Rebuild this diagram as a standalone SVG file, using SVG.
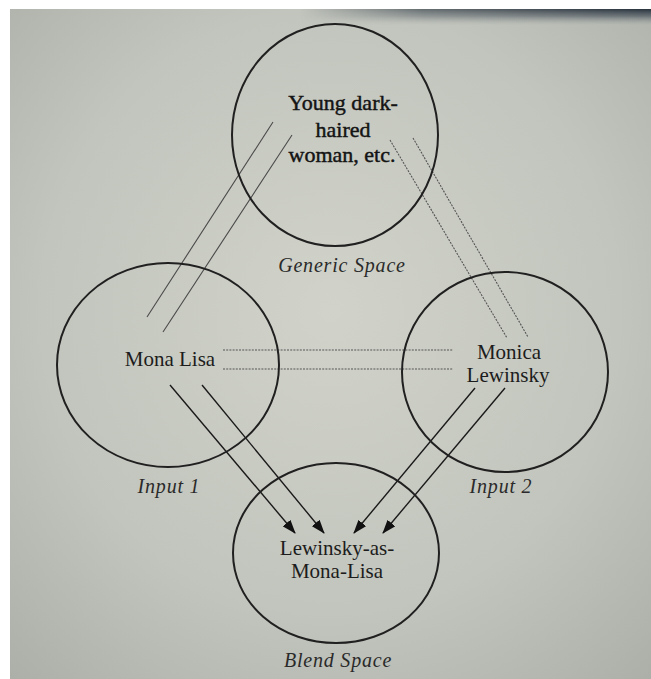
<svg xmlns="http://www.w3.org/2000/svg" width="651" height="679" viewBox="0 0 651 679">
  <defs>
    <radialGradient id="paper" cx="0.5" cy="0.45" r="0.75">
      <stop offset="0" stop-color="#d1d3ca"/>
      <stop offset="0.6" stop-color="#c2c5bd"/>
      <stop offset="1" stop-color="#abafa8"/>
    </radialGradient>
    <linearGradient id="shadeV" x1="0" y1="0" x2="0" y2="1">
      <stop offset="0" stop-color="#1f2a36" stop-opacity="0.95"/>
      <stop offset="0.45" stop-color="#3a4450" stop-opacity="0.6"/>
      <stop offset="1" stop-color="#8a9096" stop-opacity="0"/>
    </linearGradient>
    <linearGradient id="shadeH" x1="0" y1="0" x2="1" y2="0">
      <stop offset="0" stop-color="#fff" stop-opacity="0"/>
      <stop offset="0.35" stop-color="#fff" stop-opacity="0.6"/>
      <stop offset="1" stop-color="#fff" stop-opacity="1"/>
    </linearGradient>
    <mask id="shadeMask">
      <rect x="300" y="9" width="351" height="16" fill="url(#shadeH)"/>
    </mask>
    <marker id="head" markerWidth="14" markerHeight="10" refX="13" refY="5" orient="auto" markerUnits="userSpaceOnUse">
      <path d="M0,0 L14,5 L0,10 Z" fill="#111"/>
    </marker>
    <style>
      .space { fill: none; stroke: #202020; stroke-width: 2; }
      .label { font-family: "Liberation Serif", "Times New Roman", serif; fill: #1c1c1c; text-anchor: middle; }
      .inner { font-size: 21px; }
      .heavy { font-size: 22px; fill: #141414; stroke: #141414; stroke-width: 0.45px; }
      .caption { font-size: 20px; font-style: italic; letter-spacing: 0.8px; fill: #2a2a2a; }
      .link { stroke: #4a4a4a; stroke-width: 1.1; fill: none; }
      .dotted { stroke: #555; stroke-width: 1.1; stroke-dasharray: 2 1.2; fill: none; }
      .arrow { stroke: #1a1a1a; stroke-width: 1.4; fill: none; marker-end: url(#head); }
    </style>
  </defs>

  <!-- page margins and photographed sheet -->
  <rect x="0" y="0" width="651" height="679" fill="#ffffff"/>
  <rect x="10" y="9" width="641" height="670" fill="url(#paper)"/>
  <rect x="300" y="9" width="351" height="16" fill="url(#shadeV)" mask="url(#shadeMask)"/>

  <!-- connectors -->
  <g id="connectors">
    <line class="link" x1="273" y1="122" x2="147" y2="317"/>
    <line class="link" x1="292" y1="135" x2="163" y2="332"/>
    <line class="dotted" x1="390" y1="140" x2="507" y2="338"/>
    <line class="dotted" x1="413" y1="138" x2="528" y2="337"/>
    <line class="dotted" x1="223" y1="350" x2="453" y2="350"/>
    <line class="dotted" x1="223" y1="369" x2="453" y2="369"/>
    <line class="arrow" x1="170" y1="385" x2="295" y2="533"/>
    <line class="arrow" x1="202" y1="385" x2="324" y2="533"/>
    <line class="arrow" x1="475" y1="388" x2="354" y2="533"/>
    <line class="arrow" x1="505" y1="388" x2="383" y2="533"/>
  </g>

  <g id="generic-space">
    <ellipse class="space" cx="335" cy="135" rx="103" ry="111"/>
    <text class="label heavy" x="343" y="110">Young dark-</text>
    <text class="label heavy" x="343" y="137">haired</text>
    <text class="label heavy" x="342" y="162">woman, etc.</text>
    <text class="label caption" x="342" y="272">Generic Space</text>
  </g>

  <g id="input-1">
    <ellipse class="space" cx="168" cy="365" rx="111" ry="102"/>
    <text class="label inner" x="170" y="366">Mona Lisa</text>
    <text class="label caption" x="169" y="493">Input 1</text>
  </g>

  <g id="input-2">
    <ellipse class="space" cx="505" cy="372" rx="103" ry="100"/>
    <text class="label inner" x="509" y="359">Monica</text>
    <text class="label inner" x="508" y="382">Lewinsky</text>
    <text class="label caption" x="501" y="493">Input 2</text>
  </g>

  <g id="blend-space">
    <ellipse class="space" cx="336" cy="553" rx="103" ry="90"/>
    <text class="label inner" x="337" y="555">Lewinsky-as-</text>
    <text class="label inner" x="337" y="578">Mona-Lisa</text>
    <text class="label caption" x="338" y="667">Blend Space</text>
  </g>
</svg>
